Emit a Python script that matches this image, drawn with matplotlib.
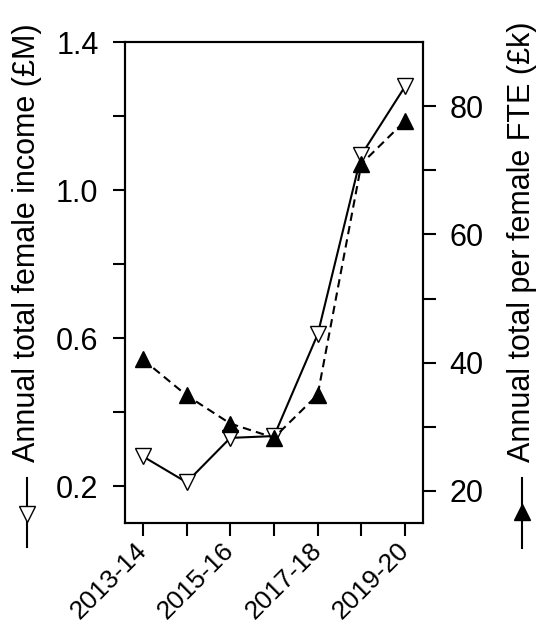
import matplotlib
matplotlib.use("Agg")
import matplotlib.pyplot as plt
from matplotlib.lines import Line2D

plt.rcParams['font.family'] = ['Liberation Sans', 'DejaVu Sans']

# data
years = ['2013-14', '2014-15', '2015-16', '2016-17', '2017-18', '2018-19', '2019-20']
income_m = [0.28, 0.21, 0.33, 0.335, 0.61, 1.095, 1.28]       # £M, left axis
per_fte_k = [40.5, 34.9, 30.5, 28.3, 35.0, 71.0, 77.7]        # £k, right axis
left_ticks = [0.2, 0.4, 0.6, 0.8, 1.0, 1.2, 1.4]
left_labels = ['0.2', '', '0.6', '', '1.0', '', '1.4']
right_ticks = [20, 30, 40, 50, 60, 70, 80]
right_labels = ['20', '', '40', '', '60', '', '80']

W, H = 541, 626
fig = plt.figure(figsize=(W / 100, H / 100), dpi=100)
ax = fig.add_axes([125 / W, 1 - 523 / H, (423 - 125) / W, (523 - 42) / H])
ax2 = ax.twinx()

x = list(range(len(years)))
lw = 1.5
fs = 22
ms = 11

ax.plot(x, income_m, color='black', lw=lw, marker='v', ms=ms,
        markerfacecolor='white', markeredgecolor='black', mew=1, zorder=3)
ax2.plot(x, per_fte_k, color='black', lw=lw, ls=(0, (4, 2.5)), marker='^', ms=ms,
         markerfacecolor='black', markeredgecolor='black', zorder=3)

ax.set_xlim(-0.41, 6.41)
ax.set_ylim(0.1, 1.4)
ax2.set_ylim(15, 90)

ax.set_xticks(x)
ax.set_xticklabels([y if i % 2 == 0 else '' for i, y in enumerate(years)],
                   rotation=45, ha='right', va='center', rotation_mode='anchor', fontsize=19)
ax.set_yticks(left_ticks)
ax.set_yticklabels(left_labels, fontsize=fs)
ax2.set_yticks(right_ticks)
ax2.set_yticklabels(right_labels, fontsize=fs)

for a in (ax, ax2):
    a.tick_params(length=9, width=1.5, pad=10)
    for s in a.spines.values():
        s.set_linewidth(1.5)
ax.tick_params(axis='x', pad=8)

# axis titles with their line-style keys
fig.text(27 / W, 1 - 462 / H, 'Annual total female income (£M)', rotation=90,
         ha='center', va='bottom', fontsize=fs)
fig.add_artist(Line2D([27 / W, 27 / W], [1 - 478 / H, 1 - 547 / H], color='black', lw=lw,
                      transform=fig.transFigure))
fig.add_artist(Line2D([27 / W], [1 - 514 / H], marker='v', ms=ms, markerfacecolor='white',
                      markeredgecolor='black', transform=fig.transFigure))

fig.text(522 / W, 1 - 462 / H, 'Annual total per female FTE (£k)', rotation=90,
         ha='center', va='bottom', fontsize=fs)
fig.add_artist(Line2D([522 / W, 522 / W], [1 - 478 / H, 1 - 548 / H], color='black', lw=lw,
                      transform=fig.transFigure))
fig.add_artist(Line2D([522 / W], [1 - 512 / H], marker='^', ms=ms, markerfacecolor='black',
                      markeredgecolor='black', transform=fig.transFigure))

fig.savefig('out.png', dpi=100, facecolor='white')
